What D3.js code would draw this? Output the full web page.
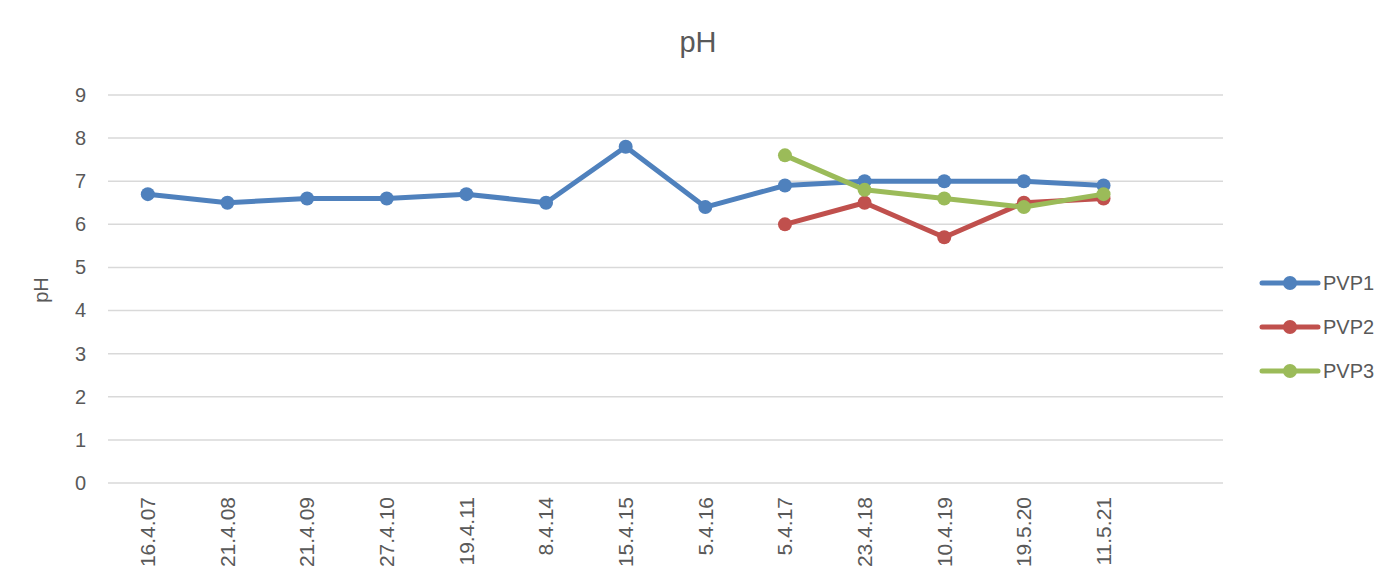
<!DOCTYPE html>
<html>
<head>
<meta charset="utf-8">
<style>
  body { margin: 0; background: #fff; }
  svg { font-family: "Liberation Sans", Arial, sans-serif; }
</style>
</head>
<body>
<svg width="1392" height="585"></svg>
<script src="https://cdn.jsdelivr.net/npm/d3@7"></script>
<script>
// dates (the last slot is left empty, as in the original sheet)
var dates = ["16.4.07", "21.4.08", "21.4.09", "27.4.10", "19.4.11", "8.4.14", "15.4.15",
             "5.4.16", "5.4.17", "23.4.18", "10.4.19", "19.5.20", "11.5.21", ""];

var pvp1 = [6.7, 6.5, 6.6, 6.6, 6.7, 6.5, 7.8, 6.4, 6.9, 7.0, 7.0, 7.0, 6.9];
var pvp2 = [null, null, null, null, null, null, null, null, 6.0, 6.5, 5.7, 6.5, 6.6];
var pvp3 = [null, null, null, null, null, null, null, null, 7.6, 6.8, 6.6, 6.4, 6.7];

var seriesNames = ["PVP1", "PVP2", "PVP3"];
var yTicks = [0, 1, 2, 3, 4, 5, 6, 7, 8, 9];

var series = [
  {name: seriesNames[0], values: pvp1, color: "#4F81BD"},
  {name: seriesNames[1], values: pvp2, color: "#C0504D"},
  {name: seriesNames[2], values: pvp3, color: "#9BBB59"}
];

var svg = d3.select("svg"),
    plotLeft = 108, plotRight = 1223, plotTop = 95, plotBottom = 483;

var x = d3.scaleBand()
    .domain(dates.map(function(d, i) { return i; }))
    .range([plotLeft, plotRight]);

var y = d3.scaleLinear()
    .domain([0, 9])
    .range([plotBottom, plotTop]);

var textColor = "#595959";

// title
svg.append("text")
    .attr("x", 698).attr("y", 52)
    .attr("text-anchor", "middle")
    .attr("font-size", 29)
    .attr("fill", textColor)
    .text("pH");

// gridlines
svg.append("g")
  .selectAll("line")
  .data(yTicks)
  .enter().append("line")
    .attr("x1", plotLeft).attr("x2", plotRight)
    .attr("y1", function(d) { return y(d); })
    .attr("y2", function(d) { return y(d); })
    .attr("stroke", "#D9D9D9")
    .attr("stroke-width", 1.5);

// y axis
var yAxis = svg.append("g")
    .attr("transform", "translate(" + plotLeft + ",0)")
    .call(d3.axisLeft(y).tickValues(yTicks).tickSize(0).tickPadding(22));
yAxis.select(".domain").remove();
yAxis.selectAll("text")
    .attr("font-size", 20)
    .attr("font-family", "Liberation Sans, Arial, sans-serif")
    .attr("fill", textColor);

svg.append("text")
    .attr("transform", "translate(48,290) rotate(-90)")
    .attr("text-anchor", "middle")
    .attr("font-size", 20)
    .attr("fill", textColor)
    .text("pH");

// x axis
var xAxis = svg.append("g")
    .attr("transform", "translate(0," + plotBottom + ")")
    .call(d3.axisBottom(x).tickSize(0).tickFormat(function(i) { return dates[i]; }));
xAxis.select(".domain").remove();
xAxis.selectAll("text")
    .attr("font-size", 21)
    .attr("font-family", "Liberation Sans, Arial, sans-serif")
    .attr("fill", textColor)
    .attr("transform", "rotate(-90)")
    .attr("text-anchor", "end")
    .attr("dy", "0.35em")
    .attr("x", -14)
    .attr("y", 0);

// lines and markers
var line = d3.line()
    .defined(function(d) { return d != null; })
    .x(function(d, i) { return x(i) + x.bandwidth() / 2; })
    .y(function(d) { return y(d); });

series.forEach(function(s) {
  var g = svg.append("g");
  g.append("path")
      .datum(s.values)
      .attr("d", line)
      .attr("fill", "none")
      .attr("stroke", s.color)
      .attr("stroke-width", 5)
      .attr("stroke-linejoin", "round")
      .attr("stroke-linecap", "round");
  g.selectAll("circle")
    .data(s.values.map(function(v, i) { return {v: v, i: i}; }).filter(function(d) { return d.v != null; }))
    .enter().append("circle")
      .attr("cx", function(d) { return x(d.i) + x.bandwidth() / 2; })
      .attr("cy", function(d) { return y(d.v); })
      .attr("r", 7)
      .attr("fill", s.color);
});

// legend
var legend = svg.append("g")
  .selectAll("g")
  .data(series)
  .enter().append("g")
    .attr("transform", function(d, i) { return "translate(1262," + (283 + i * 44) + ")"; });
legend.append("line")
    .attr("x1", 0).attr("x2", 56)
    .attr("stroke", function(d) { return d.color; })
    .attr("stroke-width", 5)
    .attr("stroke-linecap", "round");
legend.append("circle")
    .attr("cx", 28).attr("r", 7)
    .attr("fill", function(d) { return d.color; });
legend.append("text")
    .attr("x", 61).attr("dy", "0.35em")
    .attr("font-size", 20)
    .attr("fill", textColor)
    .text(function(d) { return d.name; });
</script>
</body>
</html>
